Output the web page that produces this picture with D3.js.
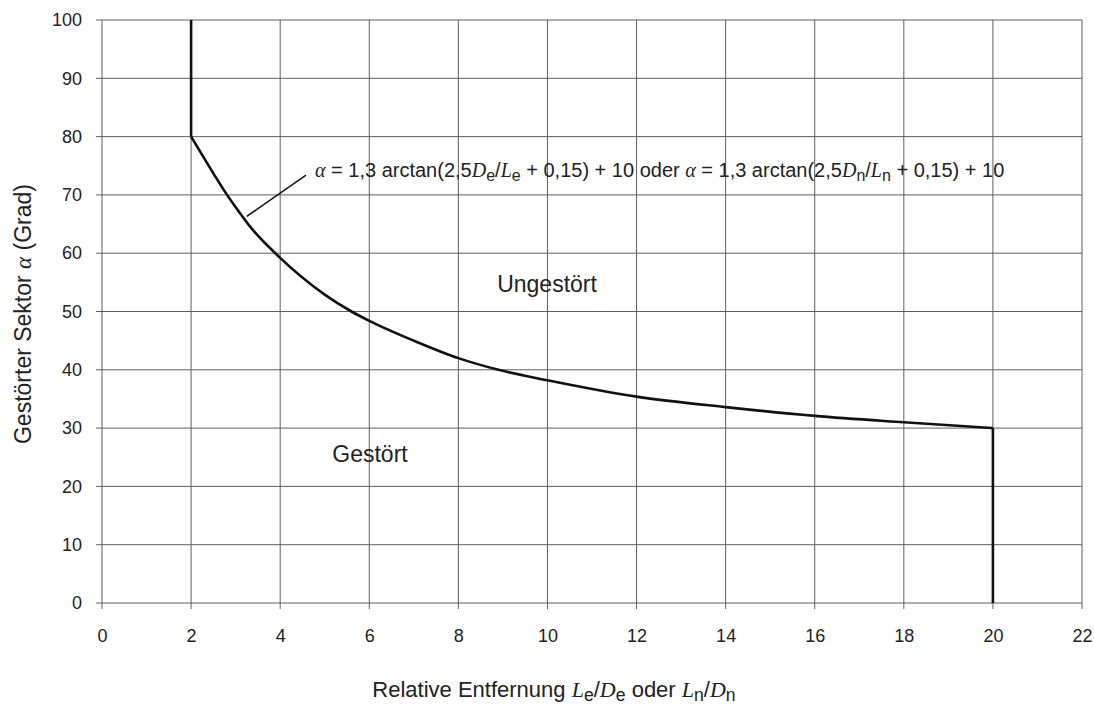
<!DOCTYPE html>
<html>
<head>
<meta charset="utf-8">
<script src="https://cdn.jsdelivr.net/npm/d3@7"></script>
<style>
  body { margin: 0; background: #fff; }
  svg { font-family: "Liberation Sans", Arial, sans-serif; }
  .grid line { stroke: #5e5e5e; stroke-width: 1; }
  .tick text { font-size: 18px; fill: #222; }
</style>
</head>
<body>
<svg id="chart" width="1094" height="704"></svg>
<script>
// tick values
const xTicks = [0, 2, 4, 6, 8, 10, 12, 14, 16, 18, 20, 22];
const yTicks = [0, 10, 20, 30, 40, 50, 60, 70, 80, 90, 100];

// boundary curve
const curveX = [2, 2.5, 2.78, 3, 3.32, 4, 5, 5.6, 6, 7, 8, 8.9, 10, 12, 14, 16, 18, 20];
const curveY = [80, 73.7, 70.3, 67.9, 64.6, 59.2, 52.9, 50, 48.4, 45, 42, 40, 38.2, 35.4, 33.6, 32.1, 31, 30];

// vertical limits at both ends
const upperX = [2, 2];
const upperY = [80, 100];
const lowerX = [20, 20];
const lowerY = [30, 0];

// leader line of the formula
const leaderX = [3.25, 4.58];
const leaderY = [66.3, 73.4];

const margin = {top: 20, right: 12, bottom: 101, left: 102};
const svg = d3.select("#chart");
const width = 1094 - margin.left - margin.right;
const height = 704 - margin.top - margin.bottom;

const xScale = d3.scaleLinear().domain([0, 22]).range([0, width]);
const yScale = d3.scaleLinear().domain([0, 100]).range([height, 0]);

const g = svg.append("g").attr("transform", `translate(${margin.left},${margin.top})`);

// grid with small ticks outside the frame
g.append("g").attr("class", "grid")
  .selectAll("line").data(xTicks).join("line")
  .attr("x1", d => xScale(d)).attr("x2", d => xScale(d))
  .attr("y1", 0).attr("y2", height + 6);
g.append("g").attr("class", "grid")
  .selectAll("line").data(yTicks).join("line")
  .attr("y1", d => yScale(d)).attr("y2", d => yScale(d))
  .attr("x1", -6).attr("x2", width);

// axes, only for the labels
const xAxis = d3.axisBottom(xScale).tickValues(xTicks).tickSize(0).tickPadding(26);
const yAxis = d3.axisLeft(yScale).tickValues(yTicks).tickSize(0).tickPadding(20);
g.append("g").attr("transform", `translate(0,${height})`).call(xAxis).call(a => a.select(".domain").remove());
g.append("g").call(yAxis).call(a => a.select(".domain").remove());

// curve
const line = d3.line().x(d => xScale(d[0])).y(d => yScale(d[1]));
g.append("path")
  .datum(d3.zip(curveX, curveY))
  .attr("d", line.curve(d3.curveMonotoneX))
  .attr("fill", "none").attr("stroke", "#111").attr("stroke-width", 2.6);
const straight = d3.line().x(d => xScale(d[0])).y(d => yScale(d[1]));
[[upperX, upperY], [lowerX, lowerY]].forEach(([xs, ys]) => {
  g.append("path")
    .datum(d3.zip(xs, ys))
    .attr("d", straight)
    .attr("fill", "none").attr("stroke", "#111").attr("stroke-width", 2.6);
});
g.append("path")
  .datum(d3.zip(leaderX, leaderY))
  .attr("d", straight)
  .attr("fill", "none").attr("stroke", "#111").attr("stroke-width", 1.5);

// text with italic serif symbols and lowered subscripts
function richText(sel, parts) {
  let shift = 0;
  parts.forEach(p => {
    const span = sel.append("tspan");
    if (p.sym) {
      span.text(p.sym)
        .attr("font-family", "'Liberation Serif', 'Times New Roman', serif")
        .attr("font-style", "italic");
    } else if (p.sub) {
      span.text(p.sub).attr("font-size", "0.8em");
    } else {
      span.text(p.t);
    }
    const want = p.sub ? 4 : 0;
    if (want !== shift) span.attr("dy", want - shift);
    shift = want;
  });
}

const formula = g.append("text")
  .attr("x", 315 - margin.left).attr("y", 177 - margin.top)
  .attr("font-size", 20).attr("fill", "#222");
richText(formula, [
  {sym: "\u03b1"}, {t: " = 1,3 arctan(2,5"}, {sym: "D"}, {sub: "e"}, {t: "/"}, {sym: "L"}, {sub: "e"},
  {t: " + 0,15) + 10 oder  "},
  {sym: "\u03b1"}, {t: " = 1,3 arctan(2,5"}, {sym: "D"}, {sub: "n"}, {t: "/"}, {sym: "L"}, {sub: "n"},
  {t: " + 0,15) + 10"}
]);

g.append("text").attr("x", 547 - margin.left).attr("y", 292 - margin.top)
  .attr("text-anchor", "middle").attr("font-size", 23).attr("fill", "#222").text("Ungestört");
g.append("text").attr("x", 370 - margin.left).attr("y", 462 - margin.top)
  .attr("text-anchor", "middle").attr("font-size", 23).attr("fill", "#222").text("Gestört");

// axis titles
const yTitle = svg.append("text")
  .attr("transform", "translate(31,314) rotate(-90)")
  .attr("text-anchor", "middle").attr("font-size", 23).attr("fill", "#222");
richText(yTitle, [{t: "Gestörter Sektor "}, {sym: "\u03b1"}, {t: " (Grad)"}]);

const xTitle = svg.append("text")
  .attr("x", 554).attr("y", 697)
  .attr("text-anchor", "middle").attr("font-size", 22).attr("fill", "#222");
richText(xTitle, [
  {t: "Relative Entfernung "}, {sym: "L"}, {sub: "e"}, {t: "/"}, {sym: "D"}, {sub: "e"},
  {t: " oder  "}, {sym: "L"}, {sub: "n"}, {t: "/"}, {sym: "D"}, {sub: "n"}
]);
</script>
</body>
</html>
